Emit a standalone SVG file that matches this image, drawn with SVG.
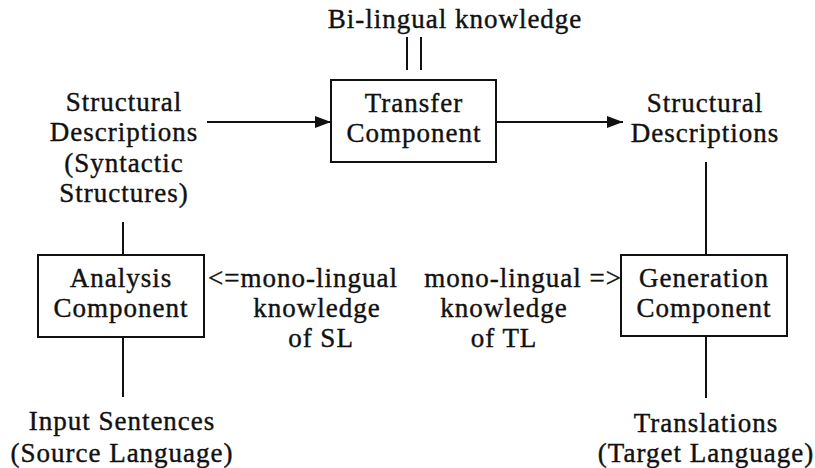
<svg xmlns="http://www.w3.org/2000/svg" width="815" height="468" viewBox="0 0 815 468" font-family="'Liberation Serif', 'DejaVu Serif', serif">
<style>
text{font-family:'Liberation Serif','DejaVu Serif',serif;font-size:27px;letter-spacing:1px;fill:#111;stroke:#111;stroke-width:0.4px;}
.c{text-anchor:middle;}
.box{fill:#fff;stroke:#111;stroke-width:2;}
.ln{stroke:#111;stroke-width:2;fill:none;}
</style>
<defs>
<marker id="ah" viewBox="0 0 16 12" refX="16" refY="6" markerWidth="16" markerHeight="12" markerUnits="userSpaceOnUse" orient="auto">
<path d="M0,0 L16,6 L0,12 Z" fill="#111"/>
</marker>
</defs>
<rect width="815" height="468" fill="#fff"/>
<g id="connectors">
<line class="ln" x1="407" y1="37" x2="407" y2="70"/>
<line class="ln" x1="421" y1="37" x2="421" y2="70"/>
<line class="ln" x1="207" y1="122" x2="331" y2="122" marker-end="url(#ah)"/>
<line class="ln" x1="496" y1="122" x2="623" y2="122" marker-end="url(#ah)"/>
<line class="ln" x1="123" y1="222" x2="123" y2="255"/>
<line class="ln" x1="123" y1="337" x2="123" y2="397"/>
<line class="ln" x1="706" y1="162" x2="706" y2="255"/>
<line class="ln" x1="706" y1="336" x2="706" y2="398"/>
</g>
<g id="bilingual">
<text class="c" x="455" y="28">Bi-lingual knowledge</text>
</g>
<g id="transfer">
<rect class="box" x="331" y="80" width="165" height="82"/>
<text class="c" x="414" y="112">Transfer</text>
<text class="c" x="414" y="142">Component</text>
</g>
<g id="sd-left">
<text class="c" x="124" y="111">Structural</text>
<text class="c" x="124" y="141">Descriptions</text>
<text class="c" x="124" y="172">(Syntactic</text>
<text class="c" x="124" y="202">Structures)</text>
</g>
<g id="sd-right">
<text class="c" x="705" y="112">Structural</text>
<text class="c" x="705" y="142">Descriptions</text>
</g>
<g id="analysis">
<rect class="box" x="38" y="255" width="166" height="82"/>
<text class="c" x="121" y="287">Analysis</text>
<text class="c" x="121" y="317">Component</text>
</g>
<g id="generation">
<rect class="box" x="621" y="255" width="166" height="81"/>
<text class="c" x="704" y="287">Generation</text>
<text class="c" x="704" y="317">Component</text>
</g>
<g id="mono-sl">
<text x="208" y="287">&lt;=mono-lingual</text>
<text class="c" x="317" y="317">knowledge</text>
<text class="c" x="321" y="347">of SL</text>
</g>
<g id="mono-tl">
<text x="622" y="287" text-anchor="end">mono-lingual =&gt;</text>
<text class="c" x="504" y="317">knowledge</text>
<text class="c" x="504" y="347">of TL</text>
</g>
<g id="input">
<text class="c" x="122" y="430">Input Sentences</text>
<text class="c" x="122" y="462">(Source Language)</text>
</g>
<g id="translations">
<text class="c" x="706" y="432">Translations</text>
<text class="c" x="706" y="462">(Target Language)</text>
</g>
</svg>
